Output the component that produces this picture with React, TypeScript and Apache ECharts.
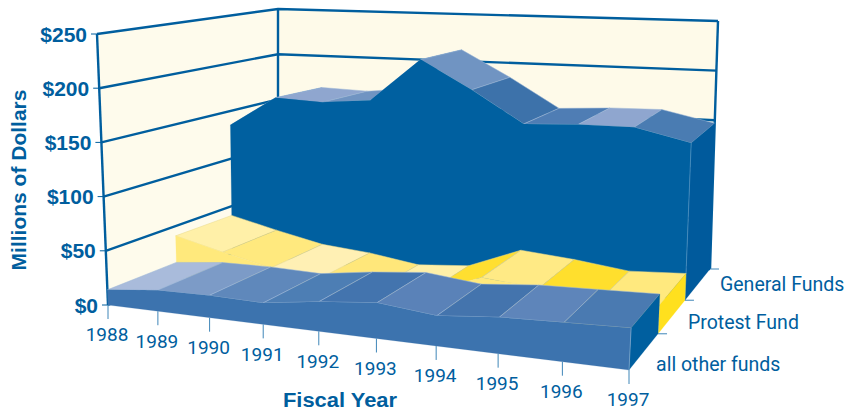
import React, { useEffect, useRef } from "react";
import * as echarts from "echarts";

const WIDTH = 845;
const HEIGHT = 411;

const years = [1988, 1989, 1990, 1991, 1992, 1993, 1994, 1995, 1996, 1997];
const valueTicks = [0, 50, 100, 150, 200, 250];
const bandNames = ["General Funds", "Protest Fund", "all other funds"];

const generalFunds = [134, 165, 163, 168, 211, 184, 154, 157, 158, 147];
const protestFund = [40, 29, 19, 15, 8, 12, 32, 28, 22, 25];
const otherFunds = [14, 19, 20, 19, 26, 31, 26, 31, 33, 35];

const generalTops = ["#0060a0", "#8fa6cf", "#7094c2", "#0060a0", "#7094c2", "#3d72aa", "#4f7db4", "#8fa6cf", "#4a7cb2"];
const protestTops = ["#fff0a8", "#ffe97e", "#fff0b4", "#ffe77a", "#fff0a8", "#ffdf30", "#ffea85", "#ffdf2d", "#ffe97e"];
const otherTops = ["#a9bbdb", "#7c9bc7", "#5f88bb", "#4d7eb4", "#4374ae", "#5a82b8", "#4474ad", "#5e85ba", "#4a7ab1"];

const INK = "#005e9e";
const SANS = '"Liberation Sans", Arial, sans-serif';
const NARROW = 'Roboto, "Liberation Sans", sans-serif';

type Pt = [number, number];

// Square-to-quad perspective map (corners: front-left, front-right, back-right, back-left).
function quadMap(q: Pt[]) {
  const [p0, p1, p2, p3] = q;
  const dx1 = p1[0] - p2[0], dx2 = p3[0] - p2[0], sx = p0[0] - p1[0] + p2[0] - p3[0];
  const dy1 = p1[1] - p2[1], dy2 = p3[1] - p2[1], sy = p0[1] - p1[1] + p2[1] - p3[1];
  const det = dx1 * dy2 - dx2 * dy1;
  const g = (sx * dy2 - dx2 * sy) / det;
  const h = (dx1 * sy - sx * dy1) / det;
  return (u: number, v: number): Pt => {
    const w = g * u + h * v + 1;
    return [
      ((p1[0] - p0[0] + g * p1[0]) * u + (p3[0] - p0[0] + h * p3[0]) * v + p0[0]) / w,
      ((p1[1] - p0[1] + g * p1[1]) * u + (p3[1] - p0[1] + h * p3[1]) * v + p0[1]) / w,
    ];
  };
}

const floor = quadMap([[108, 305], [629, 370], [710, 269], [278, 235]]);

// Full-scale rise of a vertical edge at each floor corner.
const riseFrontLeft: Pt = [-11, -271];
const riseFrontRight: Pt = [15, -300];
const riseBackRight: Pt = [8, -248];
const riseBackLeft: Pt = [0, -226];

function rise(u: number, v: number): Pt {
  const axis = (k: 0 | 1) =>
    (1 - v) * ((1 - u) * riseFrontLeft[k] + u * riseFrontRight[k]) +
    v * ((1 - u) * riseBackLeft[k] + u * riseBackRight[k]);
  return [axis(0), axis(1)];
}

const DEPTH_FRONT = 0;
const DEPTH_OTHER = 0.325;
const DEPTH_PROTEST = 0.657;
const DEPTH_BACK = 1;

// Turns a (year, value) pair, scaled by the hidden cartesian axes, into a point of the box.
function project(api: any, year: number, value: number, depth: number): Pt {
  const [px, py] = api.coord([year, value]);
  const raw = px / WIDTH;
  const u = raw + 0.09 * raw * (1 - raw);
  const v = depth + 0.125 * depth * (1 - depth) * (1 - 2 * u);
  const h = 1 - py / HEIGHT;
  const a = floor(u, v);
  const r = rise(u, v);
  return [a[0] + r[0] * h, a[1] + r[1] * h];
}

const poly = (points: Pt[], fill: string, stroke?: string, lineWidth = 0.6) => ({
  type: "polygon",
  shape: { points },
  style: { fill, stroke: stroke ?? fill, lineWidth },
});
const line = (points: Pt[], stroke: string, lineWidth: number) => ({
  type: "polyline",
  shape: { points },
  style: { stroke, lineWidth, fill: "none" },
});
const label = (x: number, y: number, text: string, font: string, align: string) => ({
  type: "text",
  x,
  y,
  style: { text, font, fill: INK, textAlign: align, textVerticalAlign: "middle" },
});

const EMPTY = { type: "group", children: [] };
const first = years[0];
const last = years[years.length - 1];

function seriesData(values: number[]) {
  return years.map((y, i) => [y, values[i]]);
}

function topSeries(values: number[], shades: string[], front: number, back: number, edge: string) {
  return {
    type: "custom",
    coordinateSystem: "cartesian2d",
    clip: false,
    silent: true,
    data: seriesData(values),
    renderItem: (params: any, api: any) => {
      const i = params.dataIndex;
      if (i >= years.length - 1) return EMPTY;
      return poly(
        [
          project(api, years[i], values[i], front),
          project(api, years[i + 1], values[i + 1], front),
          project(api, years[i + 1], values[i + 1], back),
          project(api, years[i], values[i], back),
        ],
        shades[i],
        edge,
        0.5,
      );
    },
  };
}

// The front face is one outline through all the years; the closing side sits at the last year.
function bodySeries(values: number[], face: string, side: string, front: number, back: number, edge: string) {
  return {
    type: "custom",
    coordinateSystem: "cartesian2d",
    clip: false,
    silent: true,
    data: seriesData(values),
    renderItem: (params: any, api: any) => {
      const i = params.dataIndex;
      if (i === 0) {
        const outline: Pt[] = [project(api, first, 0, front), project(api, last, 0, front)];
        for (let k = years.length - 1; k >= 0; k--) outline.push(project(api, years[k], values[k], front));
        return poly(outline, face, face, 0.2);
      }
      if (i === years.length - 1) {
        return {
          type: "group",
          children: [
            poly(
              [
                project(api, last, 0, front),
                project(api, last, values[i], front),
                project(api, last, values[i], back),
                project(api, last, 0, back),
              ],
              side,
              side,
              0.2,
            ),
            line([project(api, last, 0, front), project(api, last, values[i], front)], edge, 0.8),
          ],
        };
      }
      return EMPTY;
    },
  };
}

const wallSeries = {
  type: "custom",
  coordinateSystem: "cartesian2d",
  clip: false,
  silent: true,
  data: [[first, 0]],
  renderItem: (_: any, api: any) => ({
    type: "group",
    children: [
      poly(
        [
          project(api, first, 0, DEPTH_FRONT),
          project(api, first, 0, DEPTH_BACK),
          project(api, first, 250, DEPTH_BACK),
          project(api, first, 250, DEPTH_FRONT),
        ],
        "#fefbec",
      ),
      poly(
        [
          project(api, first, 0, DEPTH_BACK),
          project(api, last, 0, DEPTH_BACK),
          project(api, last, 250, DEPTH_BACK),
          project(api, first, 250, DEPTH_BACK),
        ],
        "#fefae9",
      ),
      line([project(api, first, 0, DEPTH_FRONT), project(api, first, 250, DEPTH_FRONT)], INK, 2.4),
      line([project(api, first, 0, DEPTH_BACK), project(api, first, 250, DEPTH_BACK)], INK, 2.4),
      line([project(api, last, 0, DEPTH_BACK), project(api, last, 250, DEPTH_BACK)], INK, 2.4),
    ],
  }),
};

const gridSeries = {
  type: "custom",
  coordinateSystem: "cartesian2d",
  clip: false,
  silent: true,
  data: valueTicks.map((t) => [first, t]),
  renderItem: (params: any, api: any) => {
    const tick = valueTicks[params.dataIndex];
    const a = project(api, first, tick, DEPTH_FRONT);
    return {
      type: "group",
      children: [
        line([a, project(api, first, tick, DEPTH_BACK), project(api, last, tick, DEPTH_BACK)], INK, 2.4),
        line([[a[0] - 6, a[1]], a], INK, 1),
        label(a[0] - 10, a[1], `$${tick}`, `bold 21px ${SANS}`, "right"),
      ],
    };
  },
};

const yearSeries = {
  type: "custom",
  coordinateSystem: "cartesian2d",
  clip: false,
  silent: true,
  data: seriesData(otherFunds),
  renderItem: (params: any, api: any) => {
    const year = years[params.dataIndex];
    const p = project(api, year, 0, DEPTH_FRONT);
    return {
      type: "group",
      children: [
        line([p, [p[0], p[1] + 14]], "#3f86b8", 1),
        label(p[0] - 1, p[1] + 29.8, String(year), `19px ${NARROW}`, "center"),
      ],
    };
  },
};

const bandLabelDepths = [DEPTH_BACK, DEPTH_PROTEST, DEPTH_OTHER];
const bandLabelDx = [10, 3, -2];
const bandLabelDy = [15, 22, 31];
const bandLabelSeries = {
  type: "custom",
  coordinateSystem: "cartesian2d",
  clip: false,
  silent: true,
  data: bandNames.map((_, i) => [last, i]),
  renderItem: (params: any, api: any) => {
    const i = params.dataIndex;
    const p = project(api, last, 0, bandLabelDepths[i]);
    return {
      type: "group",
      children: [
        line([p, [p[0] + 9, p[1]]], "#3f86b8", 1),
        label(p[0] + bandLabelDx[i], p[1] + bandLabelDy[i], bandNames[i], `19.5px ${NARROW}`, "left"),
      ],
    };
  },
};

export default function App() {
  const ref = useRef<HTMLDivElement>(null);

  useEffect(() => {
    document.body.style.margin = "0";
    const chart = echarts.init(ref.current!, undefined, { renderer: "svg" });
    chart.setOption({
      animation: false,
      grid: { left: 0, right: 0, top: 0, bottom: 0 },
      xAxis: { type: "value", min: first, max: last, show: false },
      yAxis: { type: "value", min: 0, max: 250, show: false },
      graphic: [
        {
          type: "text",
          x: 18,
          y: 180,
          rotation: Math.PI / 2,
          style: {
            text: "Millions of Dollars",
            font: `bold 21px ${SANS}`,
            fill: INK,
            textAlign: "center",
            textVerticalAlign: "middle",
          },
        },
        {
          type: "text",
          x: 340,
          y: 399.3,
          scaleX: 1.07,
          originX: 0,
          style: {
            text: "Fiscal Year",
            font: `bold 20.5px ${SANS}`,
            fill: INK,
            textAlign: "center",
            textVerticalAlign: "middle",
          },
        },
      ],
      series: [
        wallSeries,
        gridSeries,
        topSeries(generalFunds, generalTops, DEPTH_PROTEST, DEPTH_BACK, "#9db7d6"),
        bodySeries(generalFunds, "#0060a0", "#005a9c", DEPTH_PROTEST, DEPTH_BACK, "#4a8fc0"),
        topSeries(protestFund, protestTops, DEPTH_OTHER, DEPTH_PROTEST, "#e6d98c"),
        bodySeries(protestFund, "#ffe97c", "#ffe01e", DEPTH_OTHER, DEPTH_PROTEST, "#ffe97c"),
        topSeries(otherFunds, otherTops, DEPTH_FRONT, DEPTH_OTHER, "#9db7d6"),
        bodySeries(otherFunds, "#3c73ae", "#005f9f", DEPTH_FRONT, DEPTH_OTHER, "#7fa6cc"),
        yearSeries,
        bandLabelSeries,
      ],
    });
    return () => chart.dispose();
  }, []);

  return <div ref={ref} style={{ width: WIDTH, height: HEIGHT }} />;
}
